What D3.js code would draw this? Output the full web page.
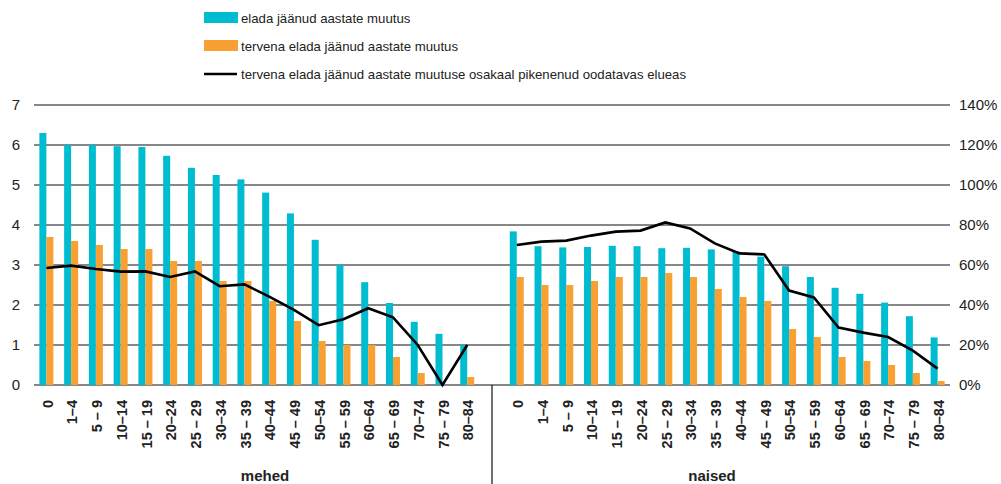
<!DOCTYPE html>
<html>
<head>
<meta charset="utf-8">
<script src="https://cdn.jsdelivr.net/npm/d3@7"></script>
<style>
  body { margin: 0; background: #fff; }
  svg text { font-family: "Liberation Sans", Arial, sans-serif; fill: #222; }
</style>
</head>
<body>
<svg class="chart" width="1001" height="484"></svg>
<script>
var ageGroups = ["0","1–4","5 – 9","10–14","15 – 19","20–24","25 – 29","30–34","35 – 39",
                 "40–44","45 – 49","50–54","55 – 59","60–64","65 – 69","70–74","75 – 79","80–84"];
var groupNames = ["mehed", "naised"];

// elada jäänud aastate muutus
var totalMen   = [6.3, 6.0, 6.0, 5.97, 5.95, 5.73, 5.43, 5.25, 5.14, 4.81, 4.29, 3.63, 3.0, 2.57, 2.05, 1.58, 1.28, 1.0];
var totalWomen = [3.84, 3.47, 3.44, 3.45, 3.48, 3.47, 3.42, 3.43, 3.39, 3.34, 3.21, 2.97, 2.7, 2.43, 2.28, 2.06, 1.72, 1.19];
// tervena elada jäänud aastate muutus
var healthyMen   = [3.7, 3.6, 3.5, 3.4, 3.4, 3.1, 3.1, 2.6, 2.6, 2.1, 1.6, 1.1, 1.0, 1.0, 0.7, 0.3, 0, 0.2];
var healthyWomen = [2.7, 2.5, 2.5, 2.6, 2.7, 2.7, 2.8, 2.7, 2.4, 2.2, 2.1, 1.4, 1.2, 0.7, 0.6, 0.5, 0.3, 0.1];
// osakaal pikenenud oodatavas elueas, %
var shareMen   = [58.5, 59.7, 58, 56.7, 56.8, 54, 56.8, 49.4, 50.3, 44.2, 37.6, 29.9, 32.9, 38.4, 33.8, 20, 0, 20];
var shareWomen = [70, 71.7, 72.2, 74.7, 76.7, 77.2, 81.3, 78.3, 70.8, 65.8, 65.3, 47.2, 43.8, 28.7, 26.2, 24, 17.2, 8.2];

var leftTicks = [0, 1, 2, 3, 4, 5, 6, 7];
var rightTicks = [0, 20, 40, 60, 80, 100, 120, 140];

var legendLabels = ["elada jäänud aastate muutus",
                    "tervena elada jäänud aastate muutus",
                    "tervena elada jäänud aastate muutuse osakaal pikenenud oodatavas elueas"];

(function () {
  var cyan = "#00bcd1", orange = "#f8a032";

  var chart = d3.select("svg.chart"),
      pLeft = 34, pRight = 950, pTop = 105, pBottom = 385;

  // one slot per age group, plus an empty slot between the groups
  var slots = [];
  ageGroups.forEach(function(a, i) { slots.push("m" + i); });
  slots.push("gap");
  ageGroups.forEach(function(a, i) { slots.push("n" + i); });

  var x = d3.scaleBand().domain(slots).range([pLeft, pRight]).padding(0);
  var yL = d3.scaleLinear().domain([0, 7]).range([pBottom, pTop]);
  var yR = d3.scaleLinear().domain([0, 140]).range([pBottom, pTop]);

  var rows = [];
  ageGroups.forEach(function(a, i) {
    rows.push({key: "m" + i, label: a, total: totalMen[i], healthy: healthyMen[i], share: shareMen[i]});
  });
  ageGroups.forEach(function(a, i) {
    rows.push({key: "n" + i, label: a, total: totalWomen[i], healthy: healthyWomen[i], share: shareWomen[i]});
  });

  // grid
  chart.append("g").selectAll("line").data(leftTicks).enter().append("line")
    .attr("x1", pLeft).attr("x2", pRight)
    .attr("y1", function(d) { return yL(d); }).attr("y2", function(d) { return yL(d); })
    .attr("stroke", "#111").attr("stroke-width", 1.2);

  // left axis labels
  chart.append("g").selectAll("text").data(leftTicks).enter().append("text")
    .attr("x", 20).attr("y", function(d) { return yL(d); }).attr("dy", "0.36em")
    .attr("text-anchor", "end").style("font-size", "15px")
    .text(function(d) { return d; });

  // right axis labels
  chart.append("g").selectAll("text").data(rightTicks).enter().append("text")
    .attr("x", 959).attr("y", function(d) { return yR(d); }).attr("dy", "0.36em")
    .style("font-size", "15px")
    .text(function(d) { return d + "%"; });

  var bw = 7, c = x.bandwidth() / 2;

  chart.append("g").selectAll("rect").data(rows).enter().append("rect")
    .attr("x", function(d) { return x(d.key) + c - bw; })
    .attr("y", function(d) { return yL(d.total); })
    .attr("width", bw)
    .attr("height", function(d) { return pBottom - yL(d.total); })
    .attr("fill", cyan);

  chart.append("g").selectAll("rect").data(rows).enter().append("rect")
    .attr("x", function(d) { return x(d.key) + c; })
    .attr("y", function(d) { return yL(d.healthy); })
    .attr("width", bw)
    .attr("height", function(d) { return pBottom - yL(d.healthy); })
    .attr("fill", orange);

  // lines, one per group
  var line = d3.line()
    .x(function(d) { return x(d.key) + c; })
    .y(function(d) { return yR(d.share); });

  [rows.slice(0, 18), rows.slice(18)].forEach(function(g) {
    chart.append("path").datum(g)
      .attr("d", line)
      .attr("fill", "none").attr("stroke", "#000")
      .attr("stroke-width", 2.6).attr("stroke-linejoin", "miter");
  });

  // x labels
  chart.append("g").selectAll("text").data(rows).enter().append("text")
    .attr("transform", function(d) { return "translate(" + (x(d.key) + c + 1) + ",400) rotate(-90)"; })
    .attr("dy", "0.36em").attr("text-anchor", "end")
    .style("font-size", "14.5px").style("font-weight", "bold")
    .text(function(d) { return d.label; });

  // group divider and names
  var gapX = x("gap") + c;
  chart.append("line").attr("x1", gapX).attr("x2", gapX).attr("y1", pBottom).attr("y2", 484)
    .attr("stroke", "#111").attr("stroke-width", 1.2);

  chart.append("g").selectAll("text").data(groupNames).enter().append("text")
    .attr("x", function(d, i) { return i == 0 ? 265 : 712; })
    .attr("y", 481).attr("text-anchor", "middle")
    .style("font-size", "15px").style("font-weight", "bold")
    .text(function(d) { return d; });

  // legend
  var legend = chart.append("g").attr("transform", "translate(204,0)");
  legendLabels.forEach(function(t, i) {
    var cy = 18 + i * 28;
    if (i < 2) {
      legend.append("rect").attr("x", 0).attr("y", cy - 6).attr("width", 34).attr("height", 11)
        .attr("fill", i == 0 ? cyan : orange);
    } else {
      legend.append("line").attr("x1", 0).attr("x2", 33).attr("y1", cy).attr("y2", cy)
        .attr("stroke", "#000").attr("stroke-width", 2.6);
    }
    legend.append("text").attr("x", 37).attr("y", cy).attr("dy", "0.36em")
      .style("font-size", "13.2px").text(t);
  });
})();
</script>
</body>
</html>
